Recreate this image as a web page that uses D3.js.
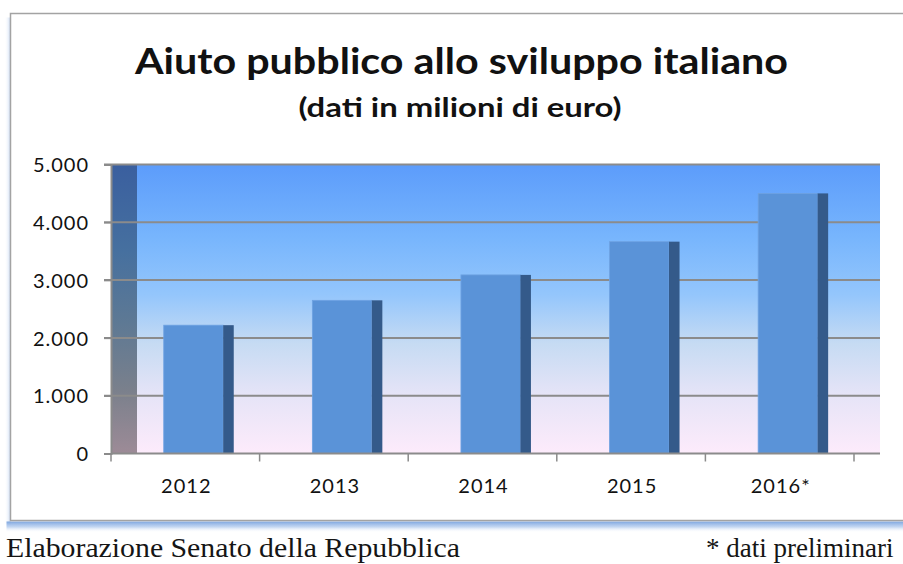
<!DOCTYPE html>
<html>
<head>
<meta charset="utf-8">
<script src="https://cdn.jsdelivr.net/npm/d3@7"></script>
<style>
  html, body { margin: 0; padding: 0; background: #ffffff; }
  svg { display: block; }
</style>
</head>
<body>
<svg id="chart" width="903" height="564"></svg>
<script>
// Italian official development aid, millions of euro
const categories = ["2012", "2013", "2014", "2015", "2016*"];
const values = [2220, 2650, 3090, 3665, 4500];
const yTicks = [0, 1000, 2000, 3000, 4000, 5000];
const titleText = "Aiuto pubblico allo sviluppo italiano";
const subtitleText = "(dati in milioni di euro)";
const sourceText = "Elaborazione Senato della Repubblica";
const noteText = "* dati preliminari";

const svg = d3.select("#chart");
const defs = svg.append("defs");

// frame geometry
const frame = { x: 10.5, y: 13.5, w: 960, h: 507 };
// front axis span and depth offset of the back wall
const front = { left: 111, right: 854 };
const depth = 26;
const yTop = 164.5, yBottom = 453.5;

const x = d3.scaleBand().domain(categories).range([front.left, front.right]).paddingInner(0).paddingOuter(0);
const y = d3.scaleLinear().domain([0, 5000]).range([yBottom, yTop]);

// gradients
const bg = defs.append("linearGradient").attr("id", "bgGrad").attr("x1", 0).attr("y1", 0).attr("x2", 0).attr("y2", 1);
[[0, "#5c9cfb"], [0.25, "#77b5fd"], [0.45, "#94c6fc"], [0.62, "#c6dbf3"], [0.8, "#e6e4f7"], [1, "#fdebfb"]]
  .forEach(([o, c]) => bg.append("stop").attr("offset", o).attr("stop-color", c));

const wall = defs.append("linearGradient").attr("id", "wallGrad").attr("x1", 0).attr("y1", 0).attr("x2", 0).attr("y2", 1);
[[0, "#3a5f9f"], [0.3, "#46709f"], [0.55, "#5e7994"], [0.78, "#7a808c"], [1, "#9d8b97"]]
  .forEach(([o, c]) => wall.append("stop").attr("offset", o).attr("stop-color", c));

const shadow = defs.append("linearGradient").attr("id", "shadowGrad").attr("x1", 0).attr("y1", 0).attr("x2", 0).attr("y2", 1);
[[0, "#7ea6df", 1], [0.5, "#b5cdef", 0.8], [1, "#ffffff", 0]]
  .forEach(([o, c, a]) => shadow.append("stop").attr("offset", o).attr("stop-color", c).attr("stop-opacity", a));

const shadowL = defs.append("linearGradient").attr("id", "shadowLGrad").attr("x1", 1).attr("y1", 0).attr("x2", 0).attr("y2", 0);
[[0, "#c4d6f1", 0.9], [1, "#ffffff", 0]]
  .forEach(([o, c, a]) => shadowL.append("stop").attr("offset", o).attr("stop-color", c).attr("stop-opacity", a));

// chart frame with soft blue shadow
svg.append("rect").attr("x", frame.x - 6).attr("y", frame.y + 4).attr("width", 6).attr("height", frame.h)
  .attr("fill", "url(#shadowLGrad)");
svg.append("rect").attr("x", frame.x - 4).attr("y", frame.y + frame.h + 1).attr("width", frame.w).attr("height", 11)
  .attr("fill", "url(#shadowGrad)");
svg.append("rect").attr("x", frame.x).attr("y", frame.y).attr("width", frame.w).attr("height", frame.h)
  .attr("fill", "#ffffff").attr("stroke", "#a3a3a3").attr("stroke-width", 1.5);

// titles
svg.append("text").attr("x", 461.5).attr("y", 74).attr("text-anchor", "middle")
  .attr("font-family", "Lato, 'Open Sans', sans-serif").attr("font-weight", 700).attr("font-size", 37)
  .attr("fill", "#111").attr("textLength", 653).attr("lengthAdjust", "spacingAndGlyphs")
  .text(titleText);
svg.append("text").attr("x", 460).attr("y", 117).attr("text-anchor", "middle")
  .attr("font-family", "Lato, 'Open Sans', sans-serif").attr("font-weight", 700).attr("font-size", 27)
  .attr("fill", "#111").attr("textLength", 323).attr("lengthAdjust", "spacingAndGlyphs")
  .text(subtitleText);

// back wall and side wall
svg.append("rect").attr("x", front.left + depth).attr("y", yTop)
  .attr("width", front.right - front.left).attr("height", yBottom - yTop)
  .attr("fill", "url(#bgGrad)");
svg.append("rect").attr("x", front.left).attr("y", yTop)
  .attr("width", depth).attr("height", yBottom - yTop)
  .attr("fill", "url(#wallGrad)");

// gridlines with tick stubs on the value axis
svg.append("g").selectAll("line").data(yTicks.filter(d => d > 0)).join("line")
  .attr("x1", front.left - 7).attr("x2", front.right + depth)
  .attr("y1", d => y(d)).attr("y2", d => y(d))
  .attr("stroke", "#8b8b8b").attr("stroke-width", 2);

// value axis
const yAxis = d3.axisLeft(y).tickValues(yTicks).tickSize(7).tickPadding(15)
  .tickFormat(d => d3.format(",")(d).replace(/,/g, "."));
const gy = svg.append("g").attr("transform", `translate(${front.left},0)`).call(yAxis);
gy.select(".domain").attr("stroke", "#8b8b8b").attr("stroke-width", 2);
gy.selectAll(".tick line").attr("stroke", "#8b8b8b").attr("stroke-width", 1.5);
gy.selectAll(".tick text").attr("font-family", "Lato, 'Open Sans', sans-serif").attr("font-size", 20)
  .attr("letter-spacing", 1).attr("fill", "#111").attr("dy", "0.36em");

// bars: front face plus darker right side
const bars = svg.append("g").selectAll("g").data(categories.map((c, i) => ({ c, v: values[i] }))).join("g");
const faceOff = 0.355, faceW = 0.40, sideW = 0.071;
bars.append("rect")
  .attr("x", d => x(d.c) + x.bandwidth() * faceOff)
  .attr("y", d => y(d.v))
  .attr("width", x.bandwidth() * faceW)
  .attr("height", d => y(0) - y(d.v))
  .attr("fill", "#5a93d8")
  .attr("stroke", "#6ea2e2").attr("stroke-width", 0.8);
bars.append("rect")
  .attr("x", d => x(d.c) + x.bandwidth() * (faceOff + faceW))
  .attr("y", d => y(d.v))
  .attr("width", x.bandwidth() * sideW)
  .attr("height", d => y(0) - y(d.v))
  .attr("fill", "#345a8a");

// category axis along the floor
svg.append("line").attr("x1", front.left).attr("x2", front.right + depth)
  .attr("y1", yBottom).attr("y2", yBottom).attr("stroke", "#8b8b8b").attr("stroke-width", 2);
const boundaries = categories.map(c => x(c)).concat([front.right]);
svg.append("g").selectAll("line").data(boundaries).join("line")
  .attr("x1", d => d).attr("x2", d => d)
  .attr("y1", yBottom).attr("y2", yBottom + 8)
  .attr("stroke", "#8b8b8b").attr("stroke-width", 1.5);
svg.append("g").selectAll("text").data(categories).join("text")
  .attr("x", d => x(d) + x.bandwidth() / 2 + 1)
  .attr("y", 493)
  .attr("text-anchor", "middle")
  .attr("font-family", "Lato, 'Open Sans', sans-serif").attr("font-size", 20)
  .attr("letter-spacing", 1).attr("fill", "#111")
  .text(d => d);

// source and note beneath the frame
svg.append("text").attr("x", 6).attr("y", 557)
  .attr("font-family", "'Liberation Serif', 'Times New Roman', serif").attr("font-size", 27)
  .attr("fill", "#151515").attr("textLength", 454).attr("lengthAdjust", "spacingAndGlyphs")
  .text(sourceText);
svg.append("text").attr("x", 706).attr("y", 557)
  .attr("font-family", "'Liberation Serif', 'Times New Roman', serif").attr("font-size", 27)
  .attr("fill", "#151515")
  .text(noteText);
</script>
</body>
</html>
